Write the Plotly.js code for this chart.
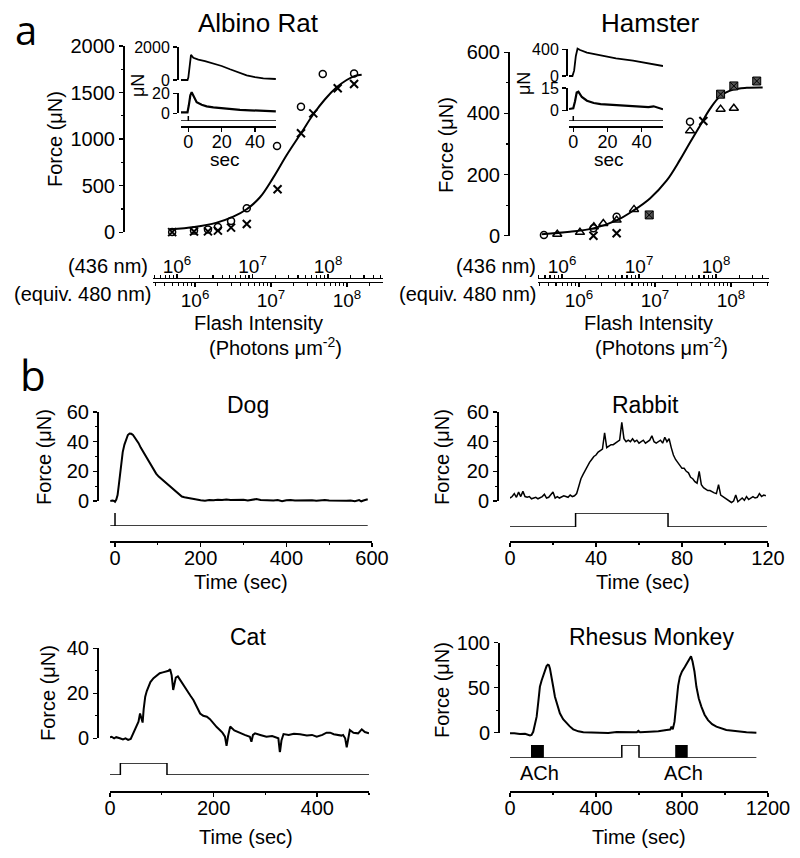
<!DOCTYPE html>
<html><head><meta charset="utf-8">
<script src="https://cdn.plot.ly/plotly-3.0.1.min.js"></script>
<style>html,body{margin:0;padding:0;background:#fff}#c{width:800px;height:858px}</style>
</head><body><div id="c"></div>
<script>
// ---------- Panel a: Albino Rat (intensity in equiv. 480 nm photons/um^2) ----------
const ratCircX = [5.0e5, 9.7e5, 1.48e6, 2.0e6, 2.98e6, 4.8e6, 1.2e7, 2.48e7, 4.8e7, 1.24e8];
const ratCircY = [3, 18, 30, 57, 122, 258, 927, 1349, 1700, 1705];
const ratXX = [5.0e5, 9.7e5, 1.48e6, 2.0e6, 2.98e6, 4.8e6, 1.22e7, 2.48e7, 3.6e7, 7.55e7, 1.24e8];
const ratXY = [2, 8, 10, 18, 50, 89, 462, 1063, 1277, 1546, 1592];
const ratFitX = [4.7e5, 9.8e5, 1.93e6, 3.19e6, 4.78e6, 7.16e6, 1.07e7, 1.61e7, 2.48e7, 3.61e7, 5.14e7, 7.31e7, 9.9e7, 1.27e8, 1.56e8];
const ratFitY = [32, 57, 104, 168, 247, 376, 587, 830, 1063, 1267, 1428, 1556, 1635, 1678, 1692];
// inset (sec, uN)
const ratInTopT = [-4.4,-0.5,0,0.8,1.6,3,6,10,15,20,25,30,35,40,45,52.5];
const ratInTopY = [0,0,150,1100,1520,1350,1230,1150,1000,850,650,450,280,170,100,60];
const ratInBotT = [-4.4,-2,-0.5,0.3,1.2,2,3.5,5,8,11,15,20,25,31,37,43,48,52.5];
const ratInBotY = [1,0.8,1,8,18,21,16,11,8.5,7,6,5,4.5,3.5,3,2.8,2.5,2];
const ratStimT = [-4.4,0,0,0,52.6];
const ratStimY = [0,0,1,0,0];

// ---------- Panel a: Hamster ----------
const hamCircX = [3.46e5, 1.55e6, 3.13e6, 2.89e7];
const hamCircY = [2, 24, 62, 373];
const hamTriX = [5.18e5, 1.03e6, 1.57e6, 2.09e6, 3.13e6, 5.3e6, 2.89e7, 7.3e7, 1.09e8];
const hamTriY = [4.5, 11, 29, 40, 51, 86, 343, 414, 417];
const hamXX = [1.55e6, 3.13e6, 4.33e7];
const hamXY = [0, 8, 375];
const hamSqX = [8.4e6, 7.3e7, 1.09e8, 2.18e8];
const hamSqY = [68, 463, 490, 506];
const hamFitX = [3.23e5, 7.6e5, 1.54e6, 3.13e6, 5.18e6, 8.59e6, 1.42e7, 2.13e7, 2.89e7, 3.91e7, 5.29e7, 7.31e7, 1.07e8, 1.61e8, 2.61e8];
const hamFitY = [5, 13, 24, 50, 82, 122, 180, 248, 305, 360, 415, 458, 478, 484, 485];
const hamInTopT = [-2.5,-0.5,0.5,1.5,2.5,4,8,15,25,35,45,52.5];
const hamInTopY = [0,0,80,300,410,390,350,315,265,230,190,150];
const hamInBotT = [-2.5,-1,0,1,2,3,5,8,12,16,22,28,34,40,44,47,49,52.5];
const hamInBotY = [1,1,1.5,6,12,12.5,9,6.5,5,4.3,3.8,3.2,2.6,2.1,2.2,2.8,2.0,0.8];
const hamStimT = [-2.5,0,0,0,52.5];
const hamStimY = [0,0,1,0,0];

// tick labels
const logTickVals = [1e6, 1e7, 1e8];
const logTickText = ['10<sup>6</sup>','10<sup>7</sup>','10<sup>8</sup>'];

// ---------- Panel b ----------
const dogT = [-11,-6,-2,0,3,6,9,12,15,18, 22,26,30,34,38,42,46,50,55,60, 66,72,78,84,90,96,102,108,114,120, 126,132,138,144,150,156,162,170,180,190,
 200,210,220,230,240,250,260,270,280,290, 300,310,320,330,340,350,360,370,380,390, 400,410,420,430,440,450,460,470,480,490, 500,510,520,530,540,550,560,570, 575,580,585,590];
const dogY = [0,0.3,0,-0.5,1,4,11,19,27,33, 38,42,44.5,45.5,45.3,44.5,43,41.5,39,36, 33,29.5,26.5,23.5,21,18.5,16.5,15,13,11.5, 10,9,7.5,6,4.5,3,2.5,2,1.4,1,
 0.5,0.1,0.6,0.5,0.9,0.6,1,0.7,0.9,0.6, 0.8,0.4,0.9,1.3,0.7,0.5,0.8,0.3,0.6,-0.2, 0.5,0.7,0.3,0.4,0.6,0.2,0.5,0.1,0.4,0.6, 0.3,0.2,0,0.4,0.1,0.3,-0.1,0.6, -0.2,0.3,0.8,1.2];
const dogStimT = [-11,0,0,0,590];
const dogStimY = [0,0,1,0,0];

const rabT = [0,1,2,3,4,5,6,7,8,9,10,11,12,13,14,15,16,17,18,19,20,21,22,23,24,25,26,27,28,29,30,31,32,33,34,35,36,37,38,39,
 40,41,42,43,44,45,46,47,48,49,50,51,52,53,54,55,56,57,58,59,60,61,62,63,64,65,66,67,68,69,70,71,72,73,74,75,76,77,78,79,
 80,81,82,83,84,85,86,87,88,89,90,91,92,93,94,95,96,97,98,99,100,101,102,103,104,105,106,107,108,109,110,111,112,113,114,115,116,117,118,119];
const rabY = [2,3,5,2.5,6,3,6.5,3,2.5,3, 1.5,2,2.5,1.5,2,3,4.5,2,2.5,4, 6,2,3,2,2.5,3.5,3,2.5,4,3, 3.5,5,10,15,18,21,23,26,28,30,
 31,33,34,35,46,36,37,38,38,39, 40,41,53,42,40,41,40,42,40,41, 39,40,41,39,40,41,44,40,39,40, 41,39,43,40,42,36,31,28,26,24,
 22,22,20,19,16,15,13,12,20,11, 9,8,7,7,6,5.5,5,11,4,3, 2.5,1,0.5,-1,0,4,-0.5,1,2,0.5, 3,1,2,3,2,2.5,5,3,4,3.5];
const rabStimT = [0,30.5,30.5,73.5,73.5,119.5];
const rabStimY = [0,0,1,1,0,0];

const catT = [0,3,8,12,19,25,30,35,40,42, 45,48,52,55,58,60,63,65,68,71, 74,78,84,90,96,102,109,113,116,119, 122,124,127,131,135,140,148,155,161,168,
 174,180,187,193,199,206,212,217,222,225, 228,232,240,251,260,270,273,276,280,290, 302,313,322,325,328,331,335,345,355,367, 380,390,399,410,418,425,432,440,447,450,
 454,457,460,463,470,479,486,492,500];
const catY = [0.5,0.7,0,0.5,0,-0.5,0,-0.7,-0.3,0.7, 2,3.7,6,7.4,11,9,7,13,18.5,21, 23,25,26.7,28,28.9,29.3,29.6,30,30.7,28, 21.5,24,27,27.5,26,24.5,21.5,19,17,14,
 11,10,9.6,8.5,6.7,5,3.7,2.5,0.7,-3.4, 1,5.2,3.5,2.2,1.5,0.7,-1.5,1.5,2.2,1.5, 0.7,1,0.3,0,-6.4,-1,1.9,1.5,2,1.8, 1.2,1.5,0.7,1.5,2.5,2.5,1.8,1.5,1.2,1.5,
 0,-4,0.5,3.7,2.5,2.2,4,2.8,2.2];
const catStimT = [0,20,20,110,110,500];
const catStimY = [0,0,1,1,0,0];

const monT = [0,20,46,70,93,100,108,116,124,132, 139,147,155,163,170,176,181,186,194,201, 209,220,232,247,263,278,294,318,341,380,
 418,457,496,535,573,590,597,605,650,690, 728,745,751,757,765,774,782,790,800,813, 825,836,842,849,858,867,878,890,905,921, 940,960,983,1006,1037,1068,1100,1146];
const monY = [-0.7,-0.5,-1.5,-1.2,-3,-2.5,1,8,17.8,35, 51,58,64,70,74,75.5,75,71,62,51, 40,30,21.5,15,10.4,7,3.7,1.5,0.4,0,
 -0.7,-0.3,0.7,0.3,0,0.5,2,0.5,1,1.5, 3,3.5,6.7,3.7,12,36,52,62,68,73, 78,82.6,85,79,68,51,38,29,20,14, 9.5,6.7,4.5,3,2.2,1.1,0.5,0];
const monStimT = [0,520,520,600,600,1146];
const monStimY = [0,0,1,1,0,0];
const achStart = [100, 771];
const achEnd = [155, 824];
const achLabel = ['ACh', 'ACh'];

// ---------- helpers ----------
const W=800, H=858;
const PX = x => x/W, PY = y => 1 - y/H;
const FONT = 'Liberation Sans, Arial, Helvetica, sans-serif';
const axBase = {showgrid:false, zeroline:false, showline:true, linecolor:'#000', linewidth:1.5,
  ticks:'outside', tickcolor:'#000', tickwidth:1.5, ticklen:4, fixedrange:true,
  tickfont:{family:FONT, size:20, color:'#000'}};
function xAx(l, r, lo, hi, yline, o){ return Object.assign({}, axBase, {domain:[PX(l),PX(r)], range:[lo,hi], anchor:'free', position:PY(yline)}, o||{}); }
function yDisp(top, bot, lo, hi, xline, o){ return Object.assign({}, axBase, {domain:[PY(bot),PY(top)], range:[lo,hi], anchor:'free', position:PX(xline)}, o||{}); }
function yData(top, bot, lo, hi, pad, anchor){ const u=(hi-lo)/(bot-top); return {domain:[PY(bot+pad),PY(top-pad)], range:[lo-u*pad, hi+u*pad], visible:false, anchor:anchor, showgrid:false, zeroline:false}; }
function yStim(base, top, anchor){ return {domain:[PY(base),PY(top)], range:[0,1], visible:false, anchor:anchor, showgrid:false, zeroline:false}; }
function ln(x, y, xa, ya, w, o){ return Object.assign({type:'scatter', mode:'lines', x:x, y:y, xaxis:xa, yaxis:ya, line:{color:'#000', width:w||2}, hoverinfo:'skip', showlegend:false}, o||{}); }
function mk(x, y, xa, ya, marker){ return {type:'scatter', mode:'markers', x:x, y:y, xaxis:xa, yaxis:ya, marker:marker, cliponaxis:false, hoverinfo:'skip', showlegend:false}; }
function empty(xa, ya){ return {type:'scatter', mode:'lines', x:[], y:[], xaxis:xa, yaxis:ya, showlegend:false, hoverinfo:'skip'}; }
function T(text, x, y, size, o){ return Object.assign({text:text, x:PX(x), y:PY(y), xref:'paper', yref:'paper', showarrow:false,
  font:{family:FONT, size:size, color:'#000'}, xanchor:'center', yanchor:'middle'}, o||{}); }

const minorLog = [];
for (let e=5; e<=8; e++) for (let m=2; m<=9; m++) minorLog.push(m*Math.pow(10,e));
const logMinor = {tickmode:'array', tickvals:minorLog, ticks:'outside', ticklen:2.5, tickwidth:1.2, tickcolor:'#000'};
const logOpts = {type:'log', tickmode:'array', tickvals:logTickVals, ticktext:logTickText, minor:logMinor, ticklen:4,
  tickfont:{family:FONT, size:19, color:'#000'}};
const insetX = {tickmode:'array', tickvals:[0,20,40], ticklabelstandoff:-5, tickfont:{family:FONT, size:18, color:'#000'}};
const insetYf = {family:FONT, size:16, color:'#000'};
const mnr = d => ({dtick:d, ticks:'outside', ticklen:2.5, tickwidth:1.2, tickcolor:'#000'});

const circ = {symbol:'circle-open', size:7, color:'#000', line:{width:1.5, color:'#000'}};
const cross = {symbol:'x-thin-open', size:8, color:'#000', line:{width:2, color:'#000'}};
const tri = {symbol:'triangle-up-open', size:8, color:'#000', line:{width:1.5, color:'#000'}};
const sqx = {symbol:'square-x', size:8, color:'#555', line:{width:1, color:'#000'}};

const data = [
  ln(ratFitX, ratFitY, 'x', 'y', 2, {line:{color:'#000', width:2, shape:'spline', smoothing:1}}),
  mk(ratCircX, ratCircY, 'x', 'y', circ),
  mk(ratXX, ratXY, 'x', 'y', cross),
  empty('x2', 'y'),
  ln(ratInTopT, ratInTopY, 'x3', 'y2', 1.8),
  empty('x3', 'y3'),
  ln(ratInBotT, ratInBotY, 'x3', 'y4', 2.2),
  empty('x3', 'y5'),
  ln(ratStimT, ratStimY, 'x3', 'y6', 1.5),
  ln(hamFitX, hamFitY, 'x4', 'y7', 2, {line:{color:'#000', width:2, shape:'spline', smoothing:1}}),
  mk(hamCircX, hamCircY, 'x4', 'y7', circ),
  mk(hamTriX, hamTriY, 'x4', 'y7', tri),
  mk(hamXX, hamXY, 'x4', 'y7', cross),
  mk(hamSqX, hamSqY, 'x4', 'y7', sqx),
  empty('x5', 'y7'),
  ln(hamInTopT, hamInTopY, 'x6', 'y8', 1.8),
  empty('x6', 'y9'),
  ln(hamInBotT, hamInBotY, 'x6', 'y10', 2.2),
  empty('x6', 'y11'),
  ln(hamStimT, hamStimY, 'x6', 'y12', 1.5),
  ln(dogT, dogY, 'x7', 'y13', 2),
  empty('x7', 'y14'),
  ln(dogStimT, dogStimY, 'x7', 'y15', 1.5),
  ln(rabT, rabY, 'x8', 'y16', 1.5),
  empty('x8', 'y17'),
  ln(rabStimT, rabStimY, 'x8', 'y18', 1.5),
  ln(catT, catY, 'x9', 'y19', 2),
  empty('x9', 'y20'),
  ln(catStimT, catStimY, 'x9', 'y21', 1.5),
  ln(monT, monY, 'x10', 'y22', 2),
  empty('x10', 'y23'),
  ln(monStimT, monStimY, 'x10', 'y24', 1.5)
];
for (let i=0; i<achStart.length; i++) {
  data.push({type:'scatter', mode:'lines', x:[achStart[i], achEnd[i], achEnd[i], achStart[i], achStart[i]], y:[0,0,1,1,0],
    xaxis:'x10', yaxis:'y24', fill:'toself', fillcolor:'#000', line:{color:'#000', width:1}, hoverinfo:'skip', showlegend:false});
}

const layout = {
  width:W, height:H, margin:{l:0, r:0, t:0, b:0}, paper_bgcolor:'#fff', plot_bgcolor:'rgba(0,0,0,0)', showlegend:false,
  font:{family:FONT, color:'#000'},
  xaxis: xAx(153, 383, 5.447, 8.474, 281.5, Object.assign({}, logOpts, {ticklabelstandoff:-3})),
  xaxis2: xAx(153, 383, 5.682, 8.728, 277.5, Object.assign({}, logOpts, {side:'top', overlaying:'x', ticklabelstandoff:-7})),
  yaxis: yDisp(46, 232.3, 0, 2000, 123, {tickmode:'linear', tick0:0, dtick:500, minor:mnr(250)}),
  xaxis3: xAx(181, 276, -4.4, 52.6, 126, insetX),
  yaxis2: yData(47, 80, 0, 2000, 8, 'x3'),
  yaxis3: yDisp(47, 80, 0, 2000, 177, {tickmode:'array', tickvals:[0,2000], tickfont:insetYf}),
  yaxis4: yData(93.3, 113.3, 0, 20, 8, 'x3'),
  yaxis5: yDisp(93.3, 113.3, 0, 20, 177, {tickmode:'array', tickvals:[0,20], tickfont:insetYf}),
  yaxis6: yStim(121, 116, 'x3'),
  xaxis4: xAx(538, 769, 5.461, 8.5, 281.5, Object.assign({}, logOpts, {ticklabelstandoff:-3})),
  xaxis5: xAx(538, 769, 5.688, 8.688, 277.5, Object.assign({}, logOpts, {side:'top', overlaying:'x4', ticklabelstandoff:-7})),
  yaxis7: yDisp(52.3, 235.7, 0, 600, 508, {tickmode:'linear', tick0:0, dtick:200, minor:mnr(100)}),
  xaxis6: xAx(569, 663, -2.5, 52.5, 126, insetX),
  yaxis8: yData(49.3, 76, 0, 400, 8, 'x6'),
  yaxis9: yDisp(49.3, 76, 0, 400, 566, {tickmode:'array', tickvals:[0,400], tickfont:insetYf}),
  yaxis10: yData(88, 110.5, 0, 15, 8, 'x6'),
  yaxis11: yDisp(88, 110.5, 0, 15, 566, {tickmode:'array', tickvals:[0,15], tickfont:insetYf}),
  yaxis12: yStim(121, 116, 'x6'),
  xaxis7: xAx(110, 372, -11.7, 600, 541, {tickmode:'array', tickvals:[0,200,400,600], ticklabelstandoff:-6, minor:{tickmode:'array', tickvals:[100,300,500], ticks:'outside', ticklen:2.5, tickwidth:1.2, tickcolor:'#000'}}),
  yaxis13: yData(412, 501, 0, 60, 12, 'x7'),
  yaxis14: yDisp(412, 501, 0, 60, 97, {tickmode:'linear', tick0:0, dtick:20, minor:mnr(10)}),
  yaxis15: yStim(526, 513, 'x7'),
  xaxis8: xAx(510, 768, 0, 120, 541, {tickmode:'linear', tick0:0, dtick:40, ticklabelstandoff:-6, minor:mnr(20)}),
  yaxis16: yData(412, 501, 0, 60, 12, 'x8'),
  yaxis17: yDisp(412, 501, 0, 60, 497, {tickmode:'linear', tick0:0, dtick:20, minor:mnr(10)}),
  yaxis18: yStim(527, 513, 'x8'),
  xaxis9: xAx(110, 369, 0, 500, 791, {tickmode:'array', tickvals:[0,200,400], ticklabelstandoff:-6, minor:{tickmode:'array', tickvals:[100,300,500], ticks:'outside', ticklen:2.5, tickwidth:1.2, tickcolor:'#000'}}),
  yaxis19: yData(648.3, 738.3, 0, 40, 14, 'x9'),
  yaxis20: yDisp(648.3, 738.3, 0, 40, 97, {tickmode:'linear', tick0:0, dtick:20, minor:mnr(10)}),
  yaxis21: yStim(775, 763, 'x9'),
  xaxis10: xAx(510, 768, 0, 1200, 791, {tickmode:'linear', tick0:0, dtick:400, ticklabelstandoff:-6, minor:mnr(200)}),
  yaxis22: yData(642.7, 732.7, 0, 100, 12, 'x10'),
  yaxis23: yDisp(642.7, 732.7, 0, 100, 498, {tickmode:'linear', tick0:0, dtick:50, minor:mnr(25)}),
  yaxis24: yStim(757.7, 745, 'x10'),
  annotations: [
    T('a', 26, 29, 40, {font:{family:'Open Sans, Liberation Sans, sans-serif', size:40, color:'#000'}}),
    T('b', 33, 374, 42, {font:{family:'Open Sans, Liberation Sans, sans-serif', size:42, color:'#000'}}),
    T('Albino Rat', 258, 23, 26),
    T('Hamster', 650, 23, 26),
    T('Force (μN)', 55, 139, 20, {textangle:-90}),
    T('Force (μN)', 446, 145, 20, {textangle:-90}),
    T('(436 nm)', 150, 266, 20, {xanchor:'right'}),
    T('(equiv. 480 nm)', 153, 294, 20, {xanchor:'right'}),
    T('(436 nm)', 538, 266, 20, {xanchor:'right'}),
    T('(equiv. 480 nm)', 538, 294, 20, {xanchor:'right'}),
    T('Flash Intensity', 258, 323, 20),
    T('(Photons μm<sup>-2</sup>)', 275, 346, 20),
    T('Flash Intensity', 648, 323, 20),
    T('(Photons μm<sup>-2</sup>)', 661, 346, 20),
    T('μN', 138, 86, 18, {textangle:-90}),
    T('μN', 524, 84, 18, {textangle:-90}),
    T('sec', 225, 159, 19),
    T('sec', 609, 159, 19),
    T('Dog', 248, 405, 23),
    T('Rabbit', 645, 405, 23),
    T('Cat', 248, 637, 23),
    T('Rhesus Monkey', 651, 637, 23),
    T('Force (μN)', 44, 457, 20, {textangle:-90}),
    T('Force (μN)', 442, 457, 20, {textangle:-90}),
    T('Force (μN)', 48, 693, 20, {textangle:-90}),
    T('Force (μN)', 442, 690, 20, {textangle:-90}),
    T('Time (sec)', 241, 582, 20),
    T('Time (sec)', 643, 582, 20),
    T('Time (sec)', 246, 837, 20),
    T('Time (sec)', 639, 837, 20)
  ]
};
for (let i=0; i<achStart.length; i++) {
  layout.annotations.push({text:achLabel[i], x:(achStart[i]+achEnd[i])/2 + 11, xref:'x10', y:PY(773), yref:'paper', showarrow:false,
    font:{family:FONT, size:20, color:'#000'}, xanchor:'center', yanchor:'middle'});
}

Plotly.newPlot('c', data, layout, {staticPlot:true, displayModeBar:false});
</script>
</body></html>
